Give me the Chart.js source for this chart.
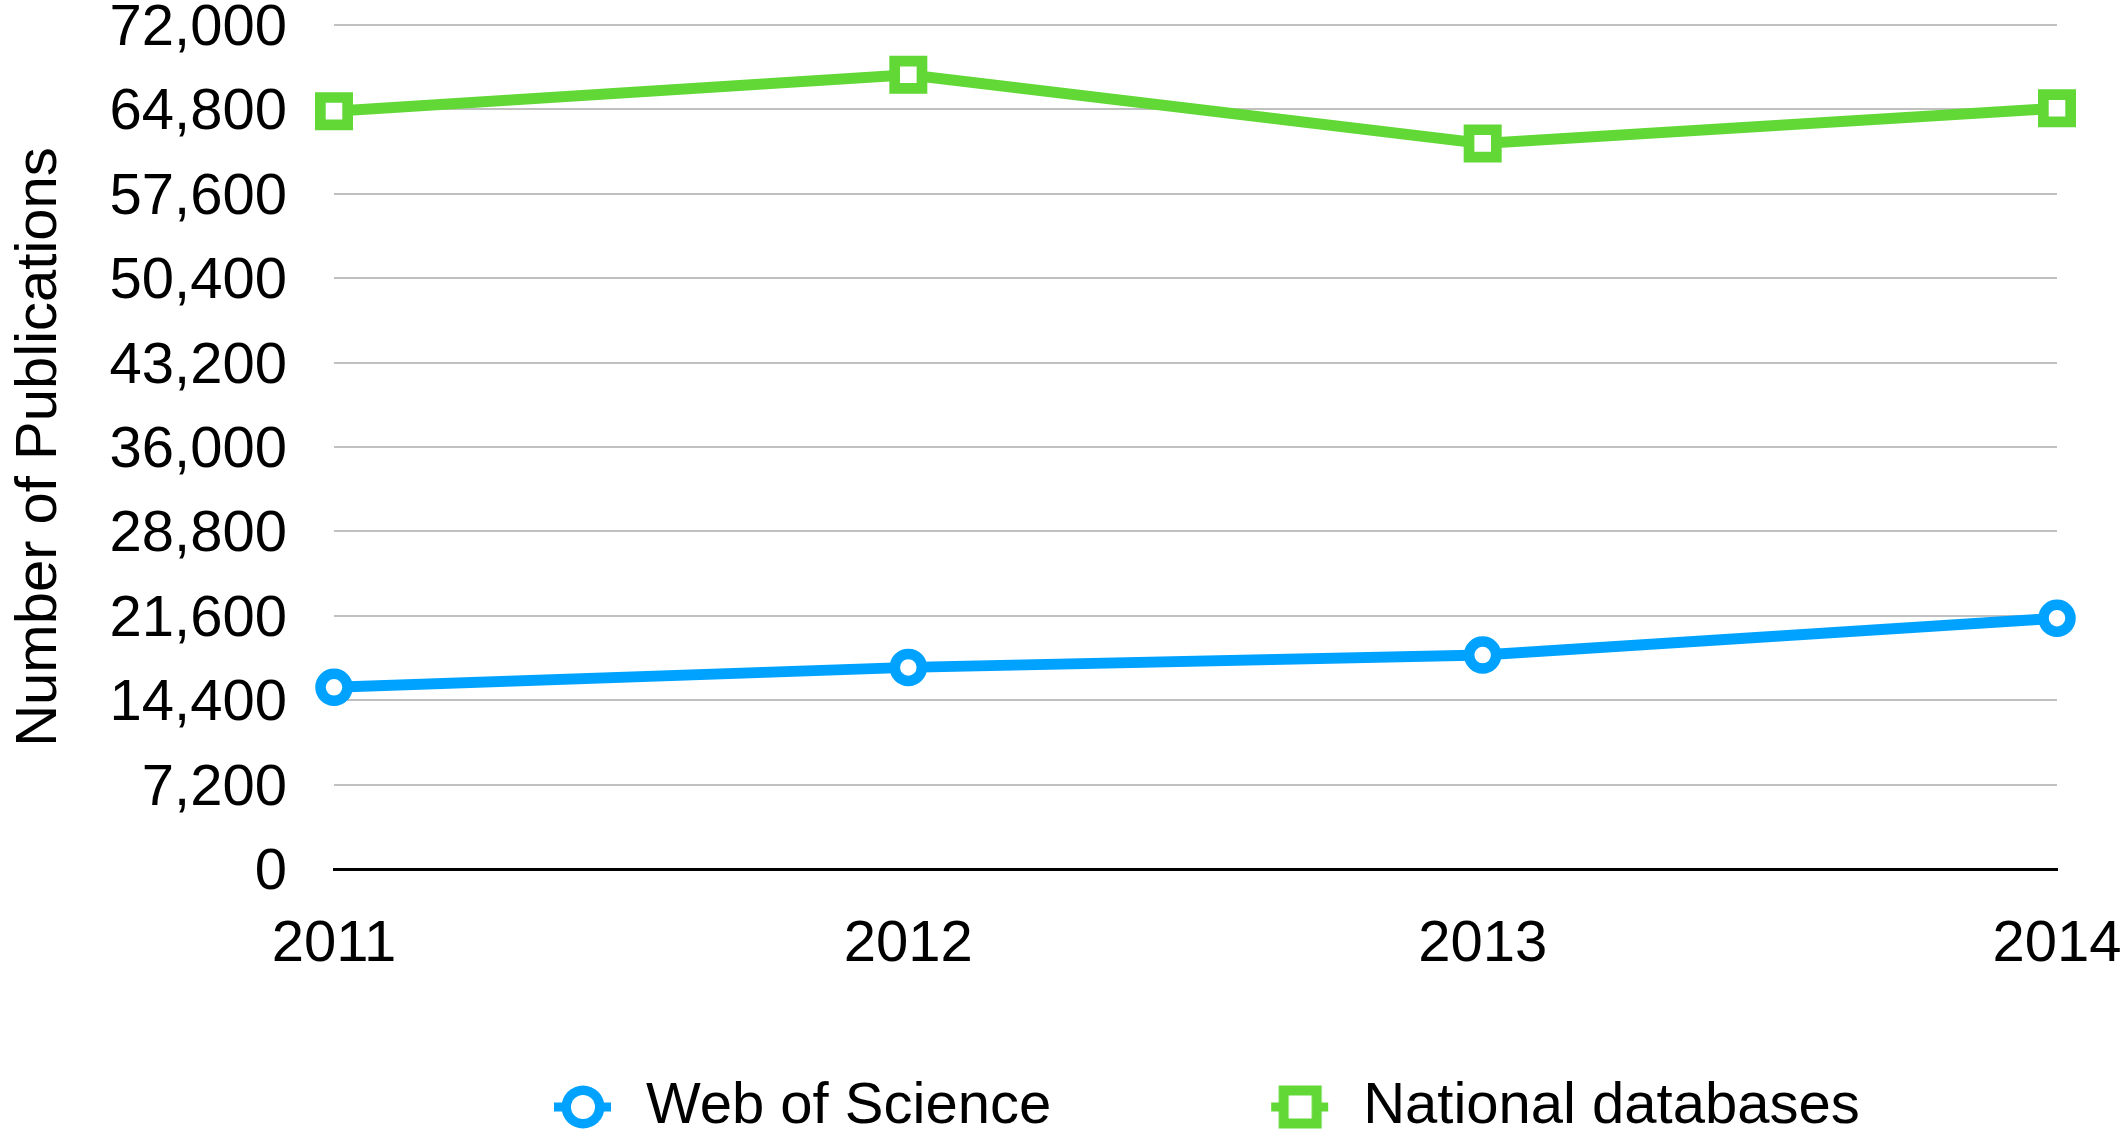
<!DOCTYPE html>
<html>
<head>
<meta charset="utf-8">
<title>Number of Publications</title>
<script src="https://cdn.jsdelivr.net/npm/chart.js@4.4.1/dist/chart.umd.min.js"></script>
<style>
  html, body { margin: 0; padding: 0; background: #fff; }
  #wrap { width: 2124px; height: 1136px; }
</style>
</head>
<body>
<div id="wrap"><canvas id="pubChart" width="2124" height="1136"></canvas></div>
<script>
// Years on the x axis
const years = ['2011', '2012', '2013', '2014'];

// Publications per year
const webOfScience = [15500, 17200, 18250, 21400];
const nationalDatabases = [64650, 67750, 61900, 64900];

// Y axis tick values
const yTicks = [0, 7200, 14400, 21600, 28800, 36000, 43200, 50400, 57600, 64800, 72000];

const BLUE = '#00A2FF';
const GREEN = '#61D836';
const GRID = '#C0C0C0';
const FONT = "'Liberation Sans', Arial, Helvetica, sans-serif";

// Legend icons: marker with a short line stub on each side.
// The canvas is wide so the gap between items matches the original.
function legendIcon(color, shape) {
    const c = document.createElement('canvas');
    c.width = 280;
    c.height = 48;
    const g = c.getContext('2d');
    const cx = 246, cy = 24;
    g.fillStyle = color;
    g.fillRect(cx - 29, cy - 4.5, 57, 9);
    if (shape === 'circle') {
        g.beginPath();
        g.arc(cx, cy, 21.5, 0, Math.PI * 2);
        g.fill();
        g.fillStyle = '#fff';
        g.beginPath();
        g.arc(cx, cy, 12, 0, Math.PI * 2);
        g.fill();
    } else {
        g.fillRect(cx - 21.5, cy - 21.5, 43, 43);
        g.fillStyle = '#fff';
        g.fillRect(cx - 11.5, cy - 11.5, 23, 23);
    }
    return c;
}
const legendIcons = [legendIcon(BLUE, 'circle'), legendIcon(GREEN, 'rect')];

const ctx = document.getElementById('pubChart').getContext('2d');
const pubChart = new Chart(ctx, {
    type: 'line',
    data: {
        labels: years,
        datasets: [{
            label: 'Web of Science',
            data: webOfScience,
            borderColor: BLUE,
            borderWidth: 11,
            pointStyle: 'circle',
            pointRadius: 13.5,
            pointBorderWidth: 10.5,
            pointBorderColor: BLUE,
            pointBackgroundColor: '#fff',
            tension: 0,
            clip: false
        }, {
            label: 'National databases',
            data: nationalDatabases,
            borderColor: GREEN,
            borderWidth: 11,
            pointStyle: 'rect',
            pointRadius: 19.3,
            pointBorderWidth: 10.7,
            pointBorderColor: GREEN,
            pointBackgroundColor: '#fff',
            tension: 0,
            clip: false
        }]
    },
    options: {
        responsive: false,
        devicePixelRatio: 1,
        animation: false,
        events: [],
        layout: {
            autoPadding: false,
            padding: { top: 25, right: 67, bottom: -10, left: 0 }
        },
        plugins: {
            tooltip: { enabled: false },
            legend: {
                position: 'bottom',
                align: 'start',
                fullSize: false,
                labels: {
                    usePointStyle: true,
                    pointStyleWidth: 280,
                    padding: 3,
                    color: '#000',
                    font: { family: FONT, size: 58 },
                    generateLabels: chart => {
                        const items = Chart.defaults.plugins.legend.labels.generateLabels(chart);
                        items.forEach((item, i) => { item.pointStyle = legendIcons[i]; });
                        return items;
                    }
                }
            }
        },
        scales: {
            x: {
                offset: false,
                grid: { display: false },
                border: { display: true, color: '#000', width: 3 },
                ticks: {
                    color: '#000',
                    font: { family: FONT, size: 58 },
                    padding: 33,
                    maxRotation: 0,
                    autoSkip: false
                },
                afterFit: scale => {
                    scale.height = 206;
                    scale.paddingLeft = 0;
                    scale.paddingRight = 0;
                }
            },
            y: {
                min: yTicks[0],
                max: yTicks[yTicks.length - 1],
                border: { display: false },
                grid: {
                    drawTicks: false,
                    color: c => c.tick && c.tick.value === 0 ? '#000' : GRID,
                    lineWidth: c => c.tick && c.tick.value === 0 ? 3 : 2
                },
                ticks: {
                    stepSize: yTicks[1] - yTicks[0],
                    color: '#000',
                    padding: 47,
                    labelOffset: 4,
                    font: { family: FONT, size: 58, lineHeight: 0.85 },
                    callback: value => value.toLocaleString('en-US')
                },
                title: {
                    display: true,
                    text: 'Number of Publications',
                    color: '#000',
                    font: { family: FONT, size: 58 },
                    padding: { top: 5, bottom: 0 }
                },
                afterFit: scale => {
                    scale.width = 334;
                    scale.paddingTop = 0;
                    scale.paddingBottom = 0;
                }
            }
        }
    }
});
</script>
</body>
</html>
